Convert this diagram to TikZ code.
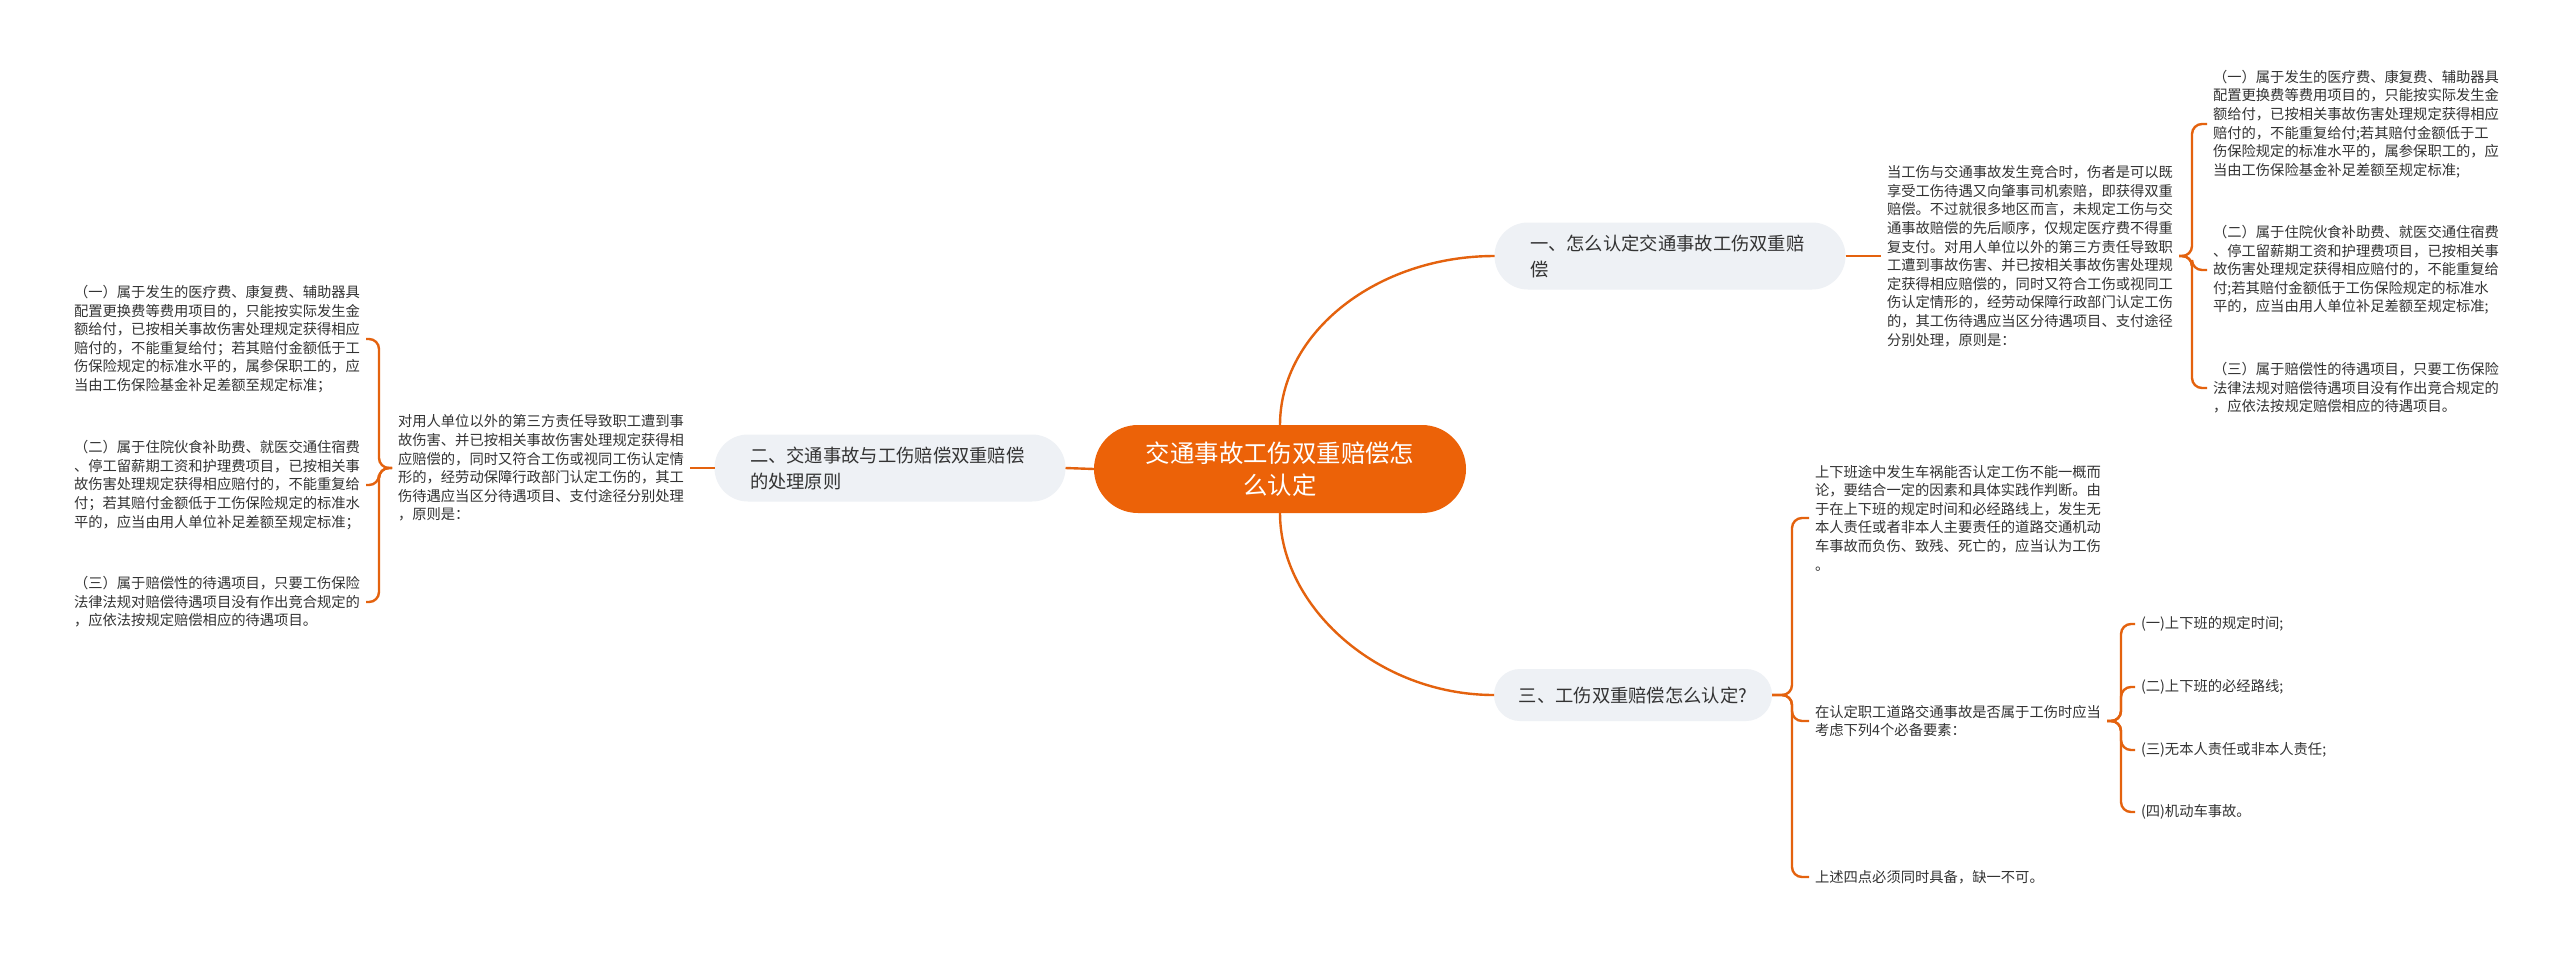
\documentclass[tikz,border=0pt]{standalone}
\usepackage{fontspec}
\setmainfont{Noto Sans CJK SC}
\definecolor{lineor}{RGB}{228,98,14}
\definecolor{rootor}{RGB}{236,98,8}
\definecolor{branchbg}{RGB}{238,241,245}
\definecolor{txt}{RGB}{51,51,51}
\tikzset{
  conn/.style={draw=lineor, line width=1.2pt, rounded corners=5pt},
  leaf/.style={anchor=west, align=left, inner sep=0pt, outer sep=3pt, text=txt,
    font=\fontsize{7.15pt}{9.3pt}\selectfont},
  branchbox/.style={fill=branchbg, text=txt, font=\fontsize{9.15pt}{13pt}\selectfont,
    inner ysep=0pt, outer sep=0pt},
  rootbox/.style={fill=rootor, text=white, font=\fontsize{12.2pt}{16pt}\selectfont,
    align=center, inner sep=0pt, outer sep=0pt}
}
\begin{document}
\begin{tikzpicture}[x=0.5pt,y=-0.5pt]
\useasboundingbox (0,0) rectangle (2560,954);
\fill[white] (0,0) rectangle (2560,954);

% root and branches
\node[rootbox, minimum width=186pt, minimum height=44pt, rounded corners=22pt] (root) at (1280,469) {交通事故工伤双重赔偿怎\\么认定};
\node[branchbox, minimum height=33.5pt, rounded corners=16.75pt, text width=140pt, inner xsep=17.75pt, align=left] (b1) at (1670,256) {一、怎么认定交通事故工伤双重赔\\偿};
\node[branchbox, minimum height=33.5pt, rounded corners=16.75pt, text width=140pt, inner xsep=17.75pt, align=left] (b2) at (890,468) {二、交通事故与工伤赔偿双重赔偿\\的处理原则};
\node[branchbox, minimum height=26pt, minimum width=139pt, rounded corners=13pt, align=center] (b3) at (1633,695) {三、工伤双重赔偿怎么认定?};

% left side (branch 2)
\node[leaf] (LP) at (392,468) {对用人单位以外的第三方责任导致职工遭到事\\故伤害、并已按相关事故伤害处理规定获得相\\应赔偿的，同时又符合工伤或视同工伤认定情\\形的，经劳动保障行政部门认定工伤的，其工\\伤待遇应当区分待遇项目、支付途径分别处理\\，原则是：};
\node[leaf] (L1) at (68,339) {（一）属于发生的医疗费、康复费、辅助器具\\配置更换费等费用项目的，只能按实际发生金\\额给付，已按相关事故伤害处理规定获得相应\\赔付的，不能重复给付；若其赔付金额低于工\\伤保险规定的标准水平的，属参保职工的，应\\当由工伤保险基金补足差额至规定标准；};
\node[leaf] (L2) at (68,485) {（二）属于住院伙食补助费、就医交通住宿费\\、停工留薪期工资和护理费项目，已按相关事\\故伤害处理规定获得相应赔付的，不能重复给\\付；若其赔付金额低于工伤保险规定的标准水\\平的，应当由用人单位补足差额至规定标准；};
\node[leaf] (L3) at (68,602) {（三）属于赔偿性的待遇项目，只要工伤保险\\法律法规对赔偿待遇项目没有作出竞合规定的\\，应依法按规定赔偿相应的待遇项目。};

% right top (branch 1)
\node[leaf] (RP) at (1881,256) {当工伤与交通事故发生竞合时，伤者是可以既\\享受工伤待遇又向肇事司机索赔，即获得双重\\赔偿。不过就很多地区而言，未规定工伤与交\\通事故赔偿的先后顺序，仅规定医疗费不得重\\复支付。对用人单位以外的第三方责任导致职\\工遭到事故伤害、并已按相关事故伤害处理规\\定获得相应赔偿的，同时又符合工伤或视同工\\伤认定情形的，经劳动保障行政部门认定工伤\\的，其工伤待遇应当区分待遇项目、支付途径\\分别处理，原则是：};
\node[leaf] (R1) at (2207,124) {（一）属于发生的医疗费、康复费、辅助器具\\配置更换费等费用项目的，只能按实际发生金\\额给付，已按相关事故伤害处理规定获得相应\\赔付的，不能重复给付;若其赔付金额低于工\\伤保险规定的标准水平的，属参保职工的，应\\当由工伤保险基金补足差额至规定标准;};
\node[leaf] (R2) at (2207,270) {（二）属于住院伙食补助费、就医交通住宿费\\、停工留薪期工资和护理费项目，已按相关事\\故伤害处理规定获得相应赔付的，不能重复给\\付;若其赔付金额低于工伤保险规定的标准水\\平的，应当由用人单位补足差额至规定标准;};
\node[leaf] (R3) at (2207,388) {（三）属于赔偿性的待遇项目，只要工伤保险\\法律法规对赔偿待遇项目没有作出竞合规定的\\，应依法按规定赔偿相应的待遇项目。};

% right bottom (branch 3)
\node[leaf] (T1) at (1809,518) {上下班途中发生车祸能否认定工伤不能一概而\\论，要结合一定的因素和具体实践作判断。由\\于在上下班的规定时间和必经路线上，发生无\\本人责任或者非本人主要责任的道路交通机动\\车事故而负伤、致残、死亡的，应当认为工伤\\。};
\node[leaf] (T2) at (1809,721) {在认定职工道路交通事故是否属于工伤时应当\\考虑下列4个必备要素：};
\node[leaf] (T3) at (1809,877) {上述四点必须同时具备，缺一不可。};
\node[leaf] (F1) at (2135,624) {(一)上下班的规定时间;};
\node[leaf] (F2) at (2135,687) {(二)上下班的必经路线;};
\node[leaf] (F3) at (2135,750) {(三)无本人责任或非本人责任;};
\node[leaf] (F4) at (2135,812) {(四)机动车事故。};

% connectors
\draw[conn] (root.west) -- (b2.east);
\draw[conn] (root.north) .. controls +(0,-93) and +(-117,0) .. (b1.west);
\draw[conn] (root.south) .. controls +(0,93) and +(-117,0) .. (b3.west);

\draw[conn] (b2.west) -- (LP.east);
\foreach \c in {L1,L2,L3} \draw[conn] (LP.west) -- ++(-13,0) |- (\c.east);

\draw[conn] (b1.east) -- (RP.west);
\foreach \c in {R1,R2,R3} \draw[conn] (RP.east) -- ++(13,0) |- (\c.west);

\foreach \c in {T1,T2,T3} \draw[conn] (b3.east) -- ++(20,0) |- (\c.west);
\foreach \c in {F1,F2,F3,F4} \draw[conn] (T2.east) -- ++(14,0) |- (\c.west);
\end{tikzpicture}
\end{document}
